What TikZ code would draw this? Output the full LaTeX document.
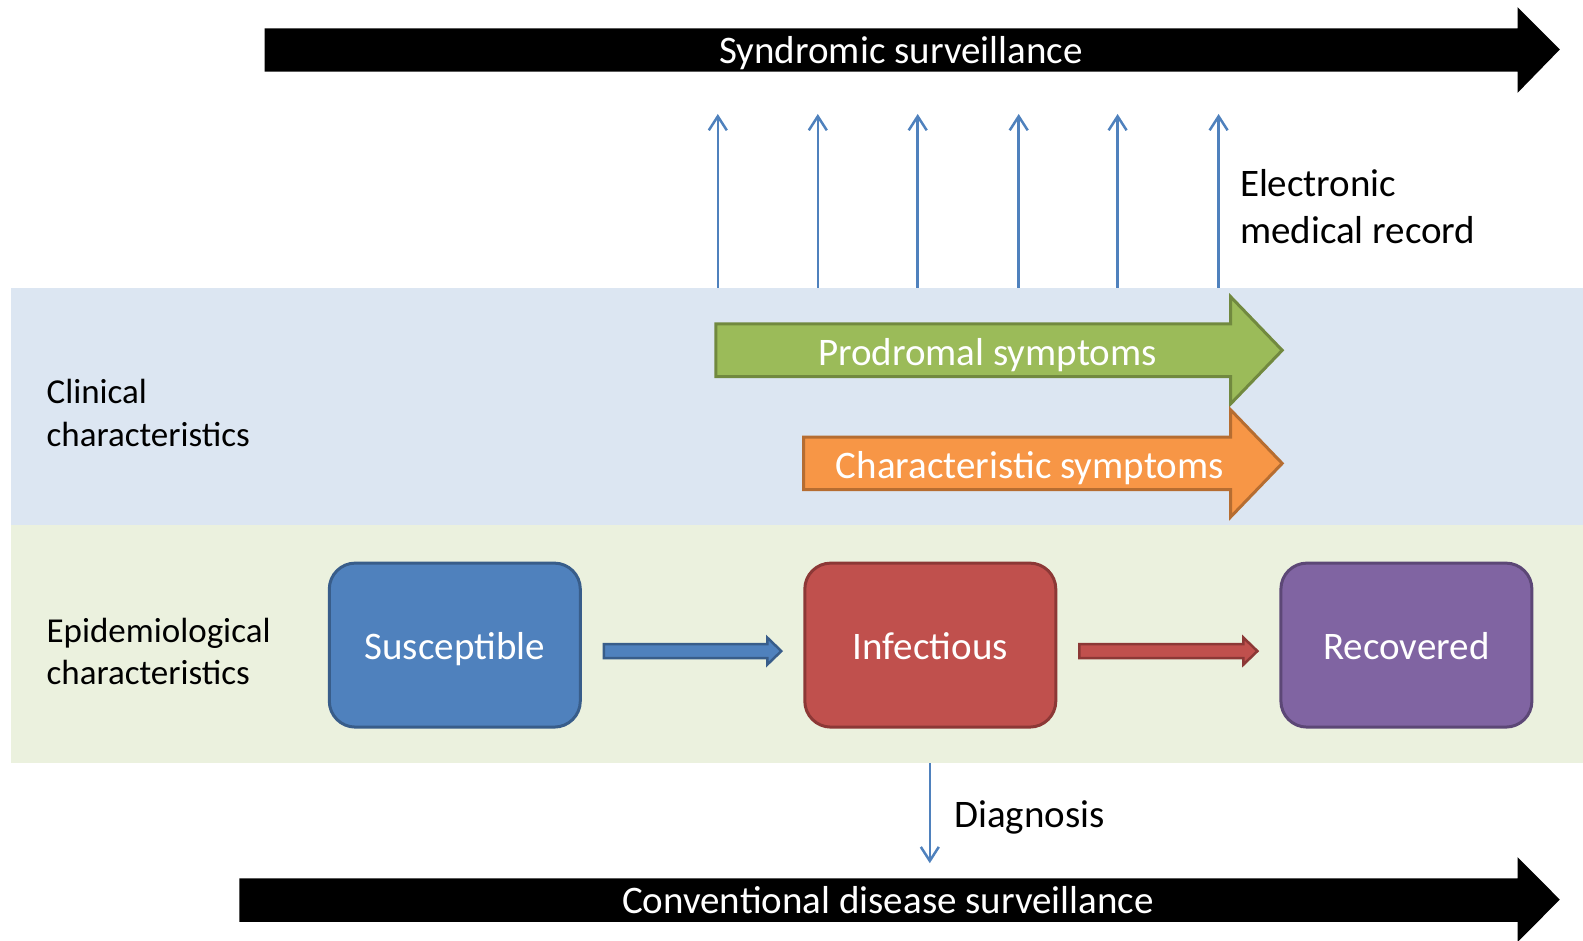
\documentclass[tikz,border=0pt]{standalone}
\usepackage{fontspec}
\setmainfont{Carlito}
\usetikzlibrary{arrows.meta,calc}
\definecolor{bandblue}{HTML}{DCE6F2}
\definecolor{bandgreen}{HTML}{EBF1DE}
\definecolor{linkblue}{HTML}{4F81BD}
\definecolor{sblue}{HTML}{4F81BD}
\definecolor{sblueb}{HTML}{385D8A}
\definecolor{ired}{HTML}{C0504D}
\definecolor{iredb}{HTML}{8C3836}
\definecolor{rpurple}{HTML}{8064A2}
\definecolor{rpurpleb}{HTML}{5C4776}
\definecolor{pgreen}{HTML}{9BBB59}
\definecolor{pgreenb}{HTML}{71893F}
\definecolor{corange}{HTML}{F79646}
\definecolor{corangeb}{HTML}{B66D31}
\begin{document}
\begin{tikzpicture}[x=1pt,y=-1pt,
  txt/.style={font=\fontsize{39}{47.5}\selectfont, inner sep=0pt},
  onetxt/.style={txt, text height=35pt, text depth=7pt},
  sidetxt/.style={font=\fontsize{35}{42.4}\selectfont, inner sep=0pt, align=left, anchor=west},
  box/.style={onetxt, text=white, minimum width=251, minimum height=164, rounded corners=26, line width=3pt},
  thinarrow/.style={draw=linkblue, line width=2.5pt, -{Straight Barb[length=14pt,width=18pt,line width=2.5pt]}},
  blockarrow/.style={line width=3pt, line join=miter},
  smallarrow/.style={line width=2.5pt, line join=miter}
]
\useasboundingbox (0,0) rectangle (1583,941);
% bands
\fill[bandblue] (11,287.7) rectangle (1583,525);
\fill[bandgreen] (11,525) rectangle (1583,763);

% syndromic surveillance arrow
\fill[black] (264.5,28.3) -- (1517.5,28.3) -- (1517.5,7.1) -- (1559.8,49.5) -- (1517.5,92.9) -- (1517.5,71.7) -- (264.5,71.7) -- cycle;
\node[onetxt, text=white] (synd) at (901,49.5) {Syndromic surveillance};

% conventional surveillance arrow
\fill[black] (239.3,878.4) -- (1517.5,878.4) -- (1517.5,857.1) -- (1559.8,899.6) -- (1517.5,942.1) -- (1517.5,921.8) -- (239.3,921.8) -- cycle;
\node[onetxt, text=white] (conv) at (888,899.6) {Conventional disease surveillance};

% EMR arrows
\foreach \i/\x in {1/717.8,2/817.8,3/917.7,4/1018.7,5/1117.6,6/1218.6} {
  \coordinate (emrb\i) at (\x,287.7);
  \coordinate (emrt\i) at (\x,114);
  \draw[thinarrow] (emrb\i) -- (emrt\i);
}
\node[txt, align=left, anchor=west] (emr) at (1239.8,206.5) {Electronic\\medical record};

% side labels
\node[sidetxt] (clin) at (46.4,412.9) {Clinical\\characteristics};
\node[sidetxt] (epi) at (46.4,651.2) {Epidemiological\\characteristics};

% symptom arrows
\draw[blockarrow, fill=pgreen, draw=pgreenb] (715.8,324) -- (1230.7,324) -- (1230.7,296.8) -- (1282.2,350.3) -- (1230.7,403.8) -- (1230.7,376.6) -- (715.8,376.6) -- cycle;
\node[onetxt, text=white] (prod) at (987.4,351.3) {Prodromal symptoms};
\draw[blockarrow, fill=corange, draw=corangeb] (803.6,437.2) -- (1230.7,437.2) -- (1230.7,409.9) -- (1282.2,463.4) -- (1230.7,516.9) -- (1230.7,489.7) -- (803.6,489.7) -- cycle;
\node[onetxt, text=white] (char) at (1029.8,464.4) {Characteristic symptoms};

% compartments
\node[box, fill=sblue, draw=sblueb] (S) at (454.8,645.1) {Susceptible};
\node[box, fill=ired, draw=iredb] (I) at (930.3,645.1) {Infectious};
\node[box, fill=rpurple, draw=rpurpleb] (R) at (1406.4,645.1) {Recovered};

% transition arrows
\draw[smallarrow, fill=sblue, draw=sblueb] ($(S.east)+(22,-1)$) -- ($(I.west)+(-36,-1)$) -- ($(I.west)+(-36,-7.5)$) -- ($(I.west)+(-22,6)$) -- ($(I.west)+(-36,19.5)$) -- ($(I.west)+(-36,13)$) -- ($(S.east)+(22,13)$) -- cycle;
\draw[smallarrow, fill=ired, draw=iredb] ($(I.east)+(22,-1)$) -- ($(R.west)+(-36,-1)$) -- ($(R.west)+(-36,-7.5)$) -- ($(R.west)+(-22,6)$) -- ($(R.west)+(-36,19.5)$) -- ($(R.west)+(-36,13)$) -- ($(I.east)+(22,13)$) -- cycle;

% diagnosis
\coordinate (dgt) at (929.8,763);
\coordinate (dgb) at (929.8,863.2);
\draw[thinarrow] (dgt) -- (dgb);
\node[onetxt, anchor=west] (diag) at (954,813.7) {Diagnosis};
\end{tikzpicture}
\end{document}
